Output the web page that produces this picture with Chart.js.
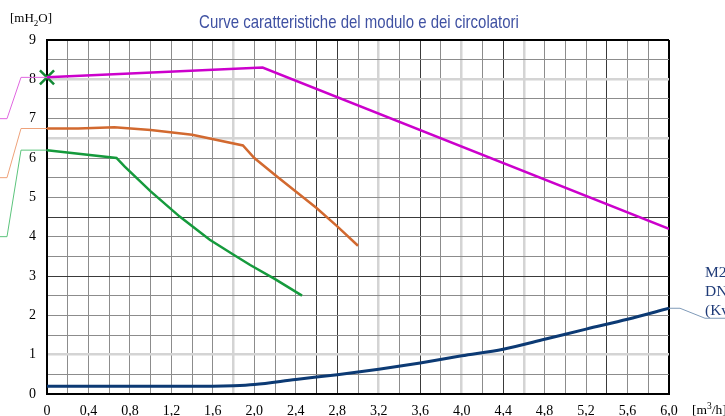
<!DOCTYPE html>
<html><head><meta charset="utf-8">
<script src="https://cdn.jsdelivr.net/npm/chart.js@4"></script>
<style>html,body{margin:0;padding:0;background:#fff}</style>
</head><body>
<canvas id="c" width="725" height="416"></canvas>
<script>
const titleText = 'Curve caratteristiche del modulo e dei circolatori';
const xTickLabels = ['0','0,4','0,8','1,2','1,6','2,0','2,4','2,8','3,2','3,6','4,0','4,4','4,8','5,2','5,6','6,0'];
const yTickLabels = ['0','1','2','3','4','5','6','7','8','9'];

const magentaX = [0, 2.08, 6.0];
const magentaY = [8.05, 8.3, 4.2];
const orangeX = [0, 0.3, 0.65, 1.0, 1.4, 1.89, 2.0, 2.2, 2.4, 2.6, 2.8, 3.0];
const orangeY = [6.75, 6.75, 6.78, 6.71, 6.59, 6.32, 6.0, 5.57, 5.15, 4.73, 4.26, 3.77];
const greenX = [0, 0.67, 0.75, 1.0, 1.28, 1.57, 1.8, 1.96, 2.2, 2.46];
const greenY = [6.2, 6.0, 5.78, 5.15, 4.51, 3.92, 3.54, 3.28, 2.92, 2.5];
const navyX = [0, 0.8, 1.6, 1.8, 2.0, 2.4, 2.8, 3.2, 3.6, 4.0, 4.4, 4.8, 5.2, 5.6, 6.0];
const navyY = [0.2, 0.2, 0.2, 0.21, 0.24, 0.37, 0.49, 0.63, 0.79, 0.97, 1.14, 1.39, 1.65, 1.9, 2.18];
const markerX = [0];
const markerY = [8.05];
// values where the left-hand leader lines start (magenta, orange, green)
const leaderAnchorY = [7.0, 5.5, 4.0];
const rightLabels = ['M2', 'DN32', '(Kvs'];

const pts = (xs, ys) => xs.map((x, i) => ({x, y: ys[i]}));
const near = (v, arr) => arr.some(a => Math.abs(a - v) < 1e-6);

const xLight = [1.8, 3.2, 4.0, 4.6], xDark = [2.6, 2.8, 3.6, 4.4, 5.4];
const yLight = [1.0, 6.5, 8.0], yDark = [3.0, 4.5];

const annot = {
  id: 'annot',
  afterDraw(chart) {
    const {ctx, chartArea: ca, scales: {x, y}} = chart;
    ctx.save();
    // title (condensed sans, centred over the plot area)
    ctx.save();
    ctx.fillStyle = '#3f51a2';
    ctx.font = '18.5px "Liberation Sans", Arial, sans-serif';
    ctx.textAlign = 'center';
    ctx.textBaseline = 'middle';
    const sx = 0.81;
    ctx.translate((ca.left + ca.right) / 2 + 1, 23);
    ctx.scale(sx, 1);
    ctx.fillText(titleText, 0, 0);
    ctx.restore();
    // left leader lines
    const cols = ['#e066e0', '#eea27a', '#5cc47c'];
    const starts = [magentaY[0], orangeY[0], greenY[0]];
    ctx.lineWidth = 1;
    starts.forEach((sv, i) => {
      const ya = y.getPixelForValue(leaderAnchorY[i]);
      const yb = y.getPixelForValue(sv);
      ctx.strokeStyle = cols[i];
      ctx.beginPath();
      ctx.moveTo(0, ya); ctx.lineTo(7, ya); ctx.lineTo(21, yb); ctx.lineTo(ca.left, yb);
      ctx.stroke();
    });
    // right leader for navy
    const ye = y.getPixelForValue(navyY[navyY.length - 1]);
    const xe = x.getPixelForValue(navyX[navyX.length - 1]);
    ctx.strokeStyle = '#7f9ab8';
    ctx.beginPath();
    ctx.moveTo(xe, ye); ctx.lineTo(xe + 11, ye); ctx.lineTo(xe + 36, ye + 10); ctx.lineTo(725, ye + 10);
    ctx.stroke();
    ctx.fillStyle = '#1f3b78';
    ctx.font = '15.5px "Liberation Serif"';
    ctx.textBaseline = 'alphabetic';
    ctx.textAlign = 'left';
    rightLabels.forEach((t, i) => ctx.fillText(t, xe + 36, ye - 31 + i * 19));
    // unit labels
    ctx.fillStyle = '#000';
    const unit = (parts, x0, base) => {
      let cx = x0;
      parts.forEach(([t, size, dy]) => {
        ctx.font = size + 'px "Liberation Serif"';
        ctx.fillText(t, cx, base + dy);
        cx += ctx.measureText(t).width;
      });
    };
    unit([['[mH', 13, 0], ['2', 9, 4], ['O]', 13, 0]], 10, 22);
    unit([['[m', 13.5, 0], ['3', 9.5, -5], ['/h]', 13.5, 0]], 692, 414);
    ctx.restore();
  }
};

new Chart(document.getElementById('c'), {
  type: 'line',
  data: {
    datasets: [
      {data: pts(magentaX, magentaY), borderColor: '#cc00cc', borderWidth: 2.5, pointRadius: 0, tension: 0},
      {data: pts(orangeX, orangeY), borderColor: '#d2692f', borderWidth: 2.5, pointRadius: 0, tension: 0},
      {data: pts(greenX, greenY), borderColor: '#159a3c', borderWidth: 2.5, pointRadius: 0, tension: 0},
      {data: pts(navyX, navyY), borderColor: '#0c3a74', borderWidth: 3, pointRadius: 0, cubicInterpolationMode: 'monotone'},
      {data: pts(markerX, markerY), showLine: false, pointStyle: 'crossRot', pointRadius: 10, pointBorderColor: '#138a36', pointBorderWidth: 2.5, clip: false}
    ]
  },
  options: {
    responsive: false,
    animation: false,
    layout: {padding: {top: 40, left: 0, right: 56, bottom: 0}},
    plugins: {
      legend: {display: false},
      tooltip: {enabled: false},
      title: {display: false}
    },
    scales: {
      x: {
        type: 'linear', min: 0, max: 6,
        afterFit: s => { s.height = 22; },
        ticks: {
          stepSize: 0.2, autoSkip: false, maxRotation: 0, padding: 9, color: '#000',
          font: {family: '"Liberation Serif"', size: 14},
          callback: (v, i) => (i % 2 === 0 ? xTickLabels[i / 2] : '')
        },
        grid: {
          drawTicks: false,
          color: c => c.tick && Math.abs(c.tick.value - 6) < 1e-6 ? '#000' : near(c.tick.value, xDark) ? '#3a3a3a' : near(c.tick.value, xLight) ? '#d4d4d4' : '#8c8c8c',
          lineWidth: c => c.tick && Math.abs(c.tick.value - 6) < 1e-6 ? 2 : near(c.tick.value, xLight) ? 2.5 : 1
        },
        border: {display: true, color: '#000', width: 2}
      },
      y: {
        type: 'linear', min: 0, max: 9,
        afterFit: s => { s.width = 47; },
        ticks: {
          stepSize: 0.5, autoSkip: false, padding: 11, color: '#000',
          font: {family: '"Liberation Serif"', size: 14},
          callback: (v, i) => (i % 2 === 0 ? yTickLabels[i / 2] : '')
        },
        grid: {
          drawTicks: false,
          color: c => c.tick && Math.abs(c.tick.value - 9) < 1e-6 ? '#000' : near(c.tick.value, yDark) ? '#3a3a3a' : near(c.tick.value, yLight) ? '#d4d4d4' : '#8c8c8c',
          lineWidth: c => c.tick && Math.abs(c.tick.value - 9) < 1e-6 ? 2 : near(c.tick.value, yLight) ? 2.5 : 1
        },
        border: {display: true, color: '#000', width: 2}
      }
    }
  },
  plugins: [annot]
});
</script>
</body></html>
